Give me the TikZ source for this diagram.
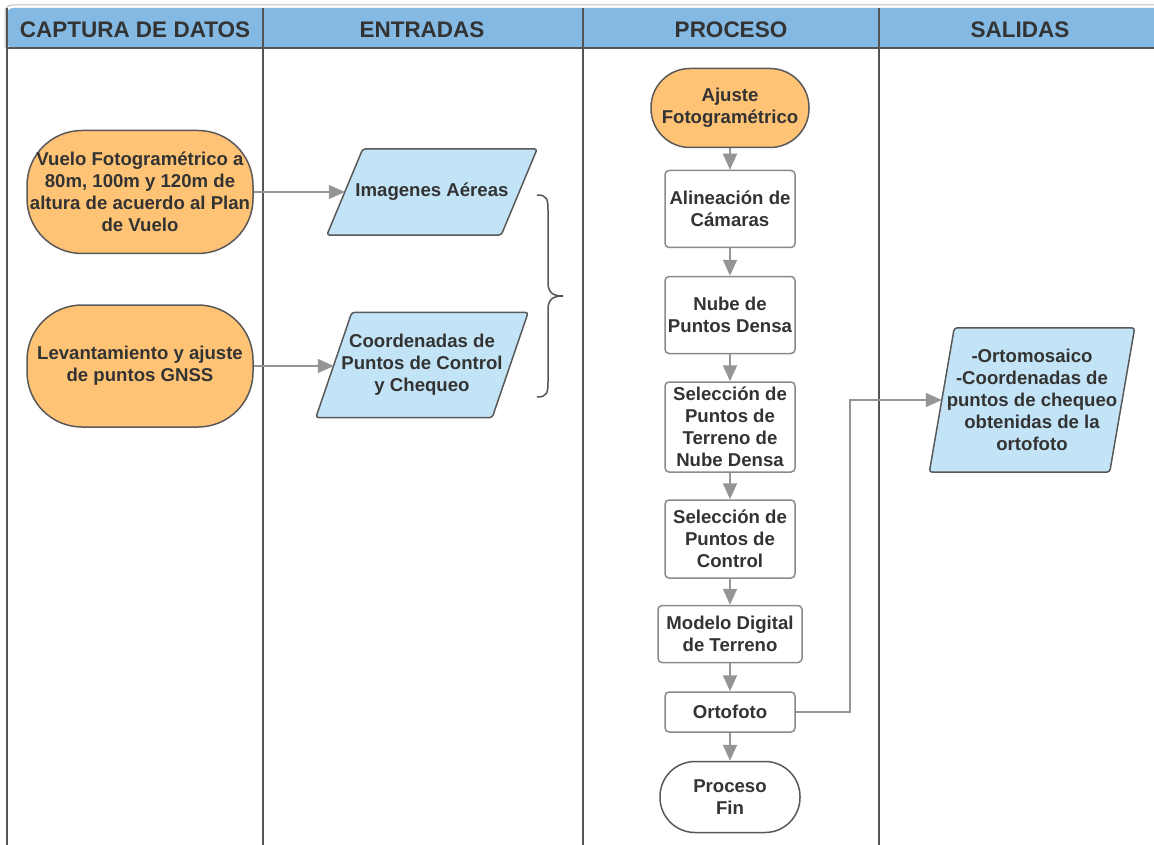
\documentclass[tikz,border=0pt]{standalone}
\usepackage{fontspec}
\setmainfont{Liberation Sans}
\usetikzlibrary{calc,backgrounds,arrows.meta}
\definecolor{hdr}{HTML}{83B9E3}
\definecolor{orng}{HTML}{FFC375}
\definecolor{lblue}{HTML}{C3E4F6}
\definecolor{txt}{HTML}{333333}
\definecolor{edge}{HTML}{595959}
\definecolor{arr}{HTML}{959595}
\definecolor{boxedge}{HTML}{8A8A8A}
\definecolor{lane}{HTML}{555555}
\begin{document}
\begin{tikzpicture}[x=1pt,y=-1pt,
  base/.style={font=\fontsize{18.6}{22}\selectfont\bfseries, text=txt, align=center, inner sep=0pt},
  term/.style={base, draw=edge, line width=1.5pt, fill=orng},
  paratext/.style={base},
  parashape/.style={draw=edge, line width=1.5pt, fill=lblue, rounded corners=3pt},
  proc/.style={base, draw=boxedge, line width=1.5pt, fill=white, rounded corners=4pt},
  hdrtext/.style={font=\fontsize{22.5}{26}\selectfont\bfseries, text=txt, inner sep=0pt},
  arrow/.style={draw=arr, line width=1.8pt, -{Triangle[length=16pt,width=14pt]}},
  laneline/.style={draw=lane, line width=2pt}
]
\useasboundingbox (0,0) rectangle (1154,845);
% header
\fill[hdr, rounded corners=6pt] (7,8) rectangle (1170,48);
\draw[gray!50, line width=1pt] (5,48) -- (5,12) arc (180:270:7) -- (1170,5);
\draw[laneline] (7,48) -- (1154,48);
\foreach \x in {7,263,583,879} \draw[laneline] (\x,8) -- (\x,845);
\node[hdrtext] (h1) at (135,30) {CAPTURA DE DATOS};
\node[hdrtext] (h2) at (422,30) {ENTRADAS};
\node[hdrtext] (h3) at (731,30) {PROCESO};
\node[hdrtext] (h4) at (1020,30) {SALIDAS};

% captura
\node[term, rounded corners=55pt, minimum width=226pt, minimum height=123pt] (vuelo) at (140,192)
  {Vuelo Fotogramétrico a\\80m, 100m y 120m de\\altura de acuerdo al Plan\\de Vuelo};
\node[term, rounded corners=55pt, minimum width=226pt, minimum height=122pt] (lev) at (140,366)
  {Levantamiento y ajuste\\de puntos GNSS};

% entradas
\node[paratext, minimum width=210pt, minimum height=86pt] (img) at (432,192) {Imagenes Aéreas};
\node[paratext, minimum width=212pt, minimum height=105pt] (coord) at (422,365)
  {Coordenadas de\\Puntos de Control\\y Chequeo};
\draw[lane, line width=1.5pt] (537,195) .. controls (547,195) and (548,199) .. (548,210) -- (548,282)
  .. controls (548,292) and (552,296) .. (563,296)
  .. controls (552,296) and (548,300) .. (548,310) -- (548,382)
  .. controls (548,393) and (547,397) .. (537,397);

% proceso
\node[term, rounded corners=39pt, minimum width=158pt, minimum height=79pt] (ajuste) at (730,108)
  {Ajuste\\Fotogramétrico};
\node[proc, minimum width=130pt, minimum height=77pt] (alin) at (730,209) {Alineación de\\Cámaras};
\node[proc, minimum width=130pt, minimum height=77pt] (nube) at (730,315) {Nube de\\Puntos Densa};
\node[proc, minimum width=130pt, minimum height=90pt] (selt) at (730,427) {Selección de\\Puntos de\\Terreno de\\Nube Densa};
\node[proc, minimum width=130pt, minimum height=78pt] (selc) at (730,539) {Selección de\\Puntos de\\Control};
\node[proc, minimum width=144pt, minimum height=57pt] (mdt) at (730,634) {Modelo Digital\\de Terreno};
\node[proc, minimum width=130pt, minimum height=40pt] (orto) at (730,712) {Ortofoto};
\node[proc, draw=edge, rounded corners=35pt, minimum width=140pt, minimum height=71pt] (fin) at (730,797) {Proceso\\Fin};

% salidas
\node[paratext, minimum width=205pt, minimum height=144pt] (sal) at (1032,400)
  {-Ortomosaico\\-Coordenadas de\\puntos de chequeo\\obtenidas de la\\ortofoto};

% parallelogram outlines
\begin{scope}[on background layer]
\draw[parashape] ($(img.north west)+(36,0)$) -- (img.north east) -- ($(img.south east)-(36,0)$) -- (img.south west) -- cycle;
\draw[parashape] ($(coord.north west)+(36,0)$) -- (coord.north east) -- ($(coord.south east)-(36,0)$) -- (coord.south west) -- cycle;
\draw[parashape] ($(sal.north west)+(25,0)$) -- (sal.north east) -- ($(sal.south east)-(25,0)$) -- (sal.south west) -- cycle;
\end{scope}

% connectors
\coordinate (imgin) at ($(img.west)+(18,0)$);
\coordinate (coordin) at ($(coord.west)+(18,0)$);
\coordinate (salin) at ($(sal.west)+(12.5,0)$);
\draw[arrow] (vuelo.east) -- (vuelo.east -| imgin);
\draw[arrow] (lev.east) -- (lev.east -| coordin);
\draw[arrow] (ajuste) -- (alin);
\draw[arrow] (alin) -- (nube);
\draw[arrow] (nube) -- (selt);
\draw[arrow] (selt) -- (selc);
\draw[arrow] (selc) -- (mdt);
\draw[arrow] (mdt) -- (orto);
\draw[arrow] (orto) -- (fin);
\draw[arrow] (orto.east) -- ++(54,0) |- (salin);
\end{tikzpicture}
\end{document}
